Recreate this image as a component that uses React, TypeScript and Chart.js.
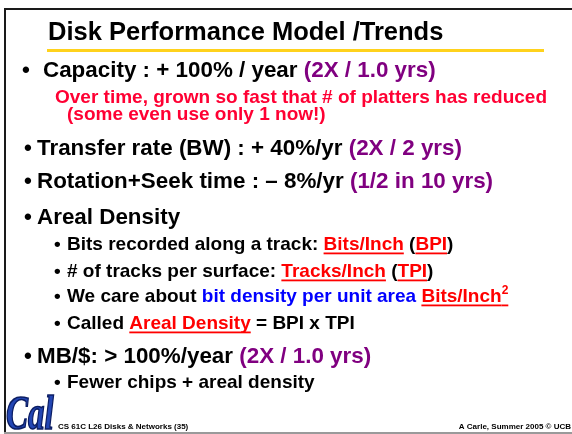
import React, { useEffect, useRef } from "react";
import { Chart, registerables } from "chart.js";

Chart.register(...registerables);

type Seg = { t: string; k: string };

// ---- slide content ----
const slideTitle = "Disk Performance Model /Trends";

const capacityItem: Seg[] = [
  { t: "Capacity : + 100% / year ", k: "plain" },
  { t: "(2X / 1.0 yrs)", k: "rate" },
];
const capacityNote: string[] = [
  "Over time, grown so fast that # of platters has reduced",
  "(some even use only 1 now!)",
];
const transferItem: Seg[] = [
  { t: "Transfer rate (BW) : + 40%/yr ", k: "plain" },
  { t: "(2X / 2 yrs)", k: "rate" },
];
const rotationItem: Seg[] = [
  { t: "Rotation+Seek time : \u2013 8%/yr ", k: "plain" },
  { t: "(1/2 in 10 yrs)", k: "rate" },
];
const arealItem: Seg[] = [{ t: "Areal Density", k: "plain" }];
const arealSubItems: Seg[][] = [
  [
    { t: "Bits recorded along a track: ", k: "plain" },
    { t: "Bits/Inch", k: "term" },
    { t: " (", k: "plain" },
    { t: "BPI", k: "term" },
    { t: ")", k: "plain" },
  ],
  [
    { t: "# of tracks per surface: ", k: "plain" },
    { t: "Tracks/Inch", k: "term" },
    { t: " (", k: "plain" },
    { t: "TPI", k: "term" },
    { t: ")", k: "plain" },
  ],
  [
    { t: "We care about ", k: "plain" },
    { t: "bit density per unit area ", k: "focus" },
    { t: "Bits/Inch", k: "term" },
    { t: "2", k: "termsup" },
  ],
  [
    { t: "Called ", k: "plain" },
    { t: "Areal Density", k: "term" },
    { t: " = BPI x TPI", k: "plain" },
  ],
];
const costItem: Seg[] = [
  { t: "MB/$: > 100%/year ", k: "plain" },
  { t: "(2X / 1.0 yrs)", k: "rate" },
];
const costSubItems: Seg[][] = [[{ t: "Fewer chips + areal density", k: "plain" }]];

const footerLeft = "CS 61C L26 Disks & Networks (35)";
const footerRight = "A Carle, Summer 2005 \u00A9 UCB";
const logoText = "Cal";

// ---- drawing ----
const FONT = '"Liberation Sans", Arial, Helvetica, sans-serif';
const colorOf = (k: string) => {
  if (k === "rate") return "#800080";
  if (k === "term" || k === "termsup") return "#FF0000";
  if (k === "focus") return "#0000FF";
  if (k === "note") return "#FF0033";
  return "#000000";
};

function drawSegs(ctx: CanvasRenderingContext2D, segs: Seg[], x: number, y: number, size: number) {
  let cx = x;
  for (const s of segs) {
    const sup = s.k === "termsup";
    const fs = sup ? Math.round(size * 0.62) : size;
    ctx.font = `bold ${fs}px ${FONT}`;
    ctx.fillStyle = colorOf(s.k);
    const yy = sup ? y - size * 0.42 : y;
    ctx.fillText(s.t, cx, yy);
    const w = ctx.measureText(s.t).width;
    if (s.k === "term" || sup) {
      ctx.fillRect(cx, y + 2.5, w, 1.8);
    }
    cx += w;
  }
}

function drawBullet(ctx: CanvasRenderingContext2D, x: number, y: number, size: number) {
  ctx.font = `bold ${size}px ${FONT}`;
  ctx.fillStyle = "#000";
  ctx.fillText("\u2022", x, y);
}

const slidePlugin = {
  id: "slide",
  afterDraw(chart: any) {
    const ctx: CanvasRenderingContext2D = chart.ctx;
    ctx.save();
    ctx.textBaseline = "alphabetic";
    ctx.textAlign = "left";

    // frame
    ctx.fillStyle = "#1a1a1a";
    ctx.fillRect(4, 8, 568, 2);
    ctx.fillRect(4, 8, 2, 426);
    ctx.fillStyle = "#9a9a9a";
    ctx.fillRect(4, 432, 568, 2);

    // title
    ctx.font = `bold 25.5px ${FONT}`;
    ctx.fillStyle = "#000";
    ctx.fillText(slideTitle, 48, 40);
    ctx.fillStyle = "#FFD21C";
    ctx.fillRect(47, 49, 497, 3);

    const big = 22.4;
    const small = 19;

    drawBullet(ctx, 22, 77, big);
    drawSegs(ctx, capacityItem, 43, 77, big);
    drawSegs(ctx, [{ t: capacityNote[0], k: "note" }], 55, 103, small);
    drawSegs(ctx, [{ t: capacityNote[1], k: "note" }], 67, 120, small);

    const mains: [Seg[], number][] = [
      [transferItem, 155],
      [rotationItem, 188],
      [arealItem, 224],
      [costItem, 363],
    ];
    for (const [segs, y] of mains) {
      drawBullet(ctx, 24, y, big);
      drawSegs(ctx, segs, 37, y, big);
    }
    const subYs = [250, 277, 302, 329];
    arealSubItems.forEach((segs, i) => {
      drawBullet(ctx, 54, subYs[i], small);
      drawSegs(ctx, segs, 67, subYs[i], small);
    });
    costSubItems.forEach((segs) => {
      drawBullet(ctx, 54, 388, small);
      drawSegs(ctx, segs, 67, 388, small);
    });

    // footer
    ctx.font = `bold 8px ${FONT}`;
    ctx.fillStyle = "#000";
    ctx.fillText(footerLeft, 58, 429);
    ctx.textAlign = "right";
    ctx.fillText(footerRight, 571, 429);
    ctx.textAlign = "left";

    // logo
    ctx.save();
    ctx.translate(6, 429);
    ctx.scale(1, 1.45);
    ctx.font = `italic bold 33px "Liberation Serif", "Times New Roman", serif`;
    ctx.lineWidth = 1.2;
    ctx.strokeStyle = "#0b1d63";
    ctx.fillStyle = "#2346b4";
    ctx.fillText(logoText, 0, 0);
    ctx.strokeText(logoText, 0, 0);
    ctx.restore();

    ctx.restore();
  },
};

export default function App() {
  const ref = useRef<HTMLCanvasElement>(null);
  useEffect(() => {
    if (!ref.current) return;
    const chart = new Chart(ref.current, {
      type: "scatter",
      data: { datasets: [] },
      options: {
        responsive: false,
        animation: false,
        devicePixelRatio: 1,
        events: [],
        layout: { padding: 0 },
        plugins: { legend: { display: false }, tooltip: { enabled: false }, title: { display: false } },
        scales: { x: { display: false }, y: { display: false } },
      },
      plugins: [slidePlugin],
    });
    return () => chart.destroy();
  }, []);
  return (
    <div style={{ position: "fixed", left: 0, top: 0, width: 572, height: 434, background: "#fff" }}>
      <canvas ref={ref} width={572} height={434} style={{ display: "block" }} />
    </div>
  );
}
